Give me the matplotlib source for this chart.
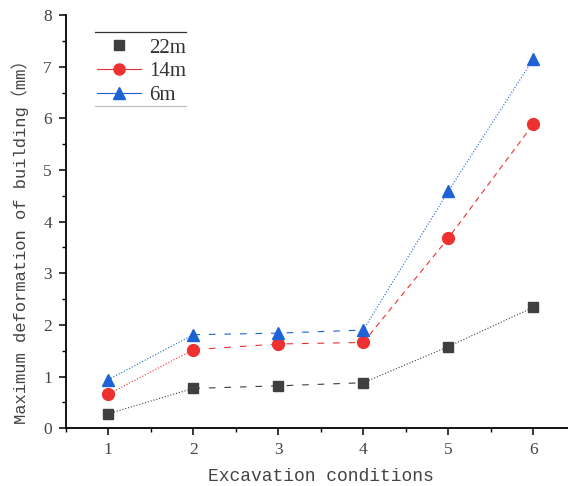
import numpy as np
import matplotlib.pyplot as plt
from matplotlib.lines import Line2D

plt.rcParams['font.family'] = ['Liberation Mono', 'Noto Sans CJK SC']

# data
conditions = [1, 2, 3, 4, 5, 6]
d22 = [0.28, 0.77, 0.82, 0.88, 1.58, 2.34]
d14 = [0.66, 1.52, 1.63, 1.66, 3.68, 5.89]
d6 = [0.94, 1.81, 1.84, 1.90, 4.59, 7.15]
labels = ["22m", "14m", "6m"]

series = [
    (d22, "#3f3f3f", "s", 7.5, [':', (0, (6, 8)), ':']),
    (d14, "#ee3030", "o", 8.5, [':', (0, (6, 8)), (0, (5, 4))]),
    (d6, "#1d63d6", "^", 9, [':', (0, (6, 8)), ':']),
]
# the line style changes at points 2 and 4
breaks = [(0, 2), (1, 4), (3, 6)]

fig = plt.figure(figsize=(5.68, 4.86), dpi=100)
ax = fig.add_axes([0.1158, 0.119, 0.898, 0.850])

handles = []
for (vals, col, mk, ms, styles), lab in zip(series, labels):
    for (a, b), ls in zip(breaks, styles):
        ax.plot(conditions[a:b], vals[a:b], color=col, lw=0.8, linestyle=ls)
    ax.plot(conditions, vals, linestyle='none', marker=mk, markersize=ms,
            color=col, zorder=3)
    if lab == "22m":
        handles.append(Line2D([], [], color=col, marker=mk, markersize=6.5, linestyle='none'))
    else:
        handles.append(Line2D([], [], color=col, marker=mk, markersize=8, lw=0.8))

ax.set_xlim(0.5, 6.5)
ax.set_ylim(0, 8)
ax.set_xticks(conditions)
ax.set_xticks(np.arange(0.5, 6.6, 0.5), minor=True)
ax.set_yticks(range(0, 9))
ax.set_yticks(np.arange(0, 8.1, 0.5), minor=True)
ax.spines['top'].set_visible(False)
ax.spines['right'].set_visible(False)
ax.spines['left'].set_linewidth(1.3)
ax.spines['bottom'].set_linewidth(1.3)
ax.tick_params(which='major', direction='out', length=5, width=1.1, labelsize=12.5,
               labelcolor='#444444', pad=5)
ax.tick_params(which='minor', direction='out', length=3, width=1.0)
for t in ax.get_xticklabels() + ax.get_yticklabels():
    t.set_family('Liberation Serif')

ax.set_xlabel("Excavation conditions", fontsize=13, color='#444444', labelpad=7)
ax.set_ylabel("Maximum deformation of building（mm）", fontsize=12.3,
              color='#444444', labelpad=10)
ax.yaxis.label.set_y(0.46)

leg = ax.legend(handles, labels, loc='upper left', bbox_to_anchor=(0.025, 0.99),
                frameon=False, prop={'family': 'Liberation Serif', 'size': 15},
                handlelength=2.1, handletextpad=0.4, labelspacing=0.2)
for t in leg.get_texts():
    t.set_color('#333333')
# thin rules above and below the legend, as in the original
fig.add_artist(Line2D([95 / 568, 186 / 568], [1 - 32 / 486, 1 - 32 / 486],
                      color='#333333', lw=0.9))
fig.add_artist(Line2D([95 / 568, 186 / 568], [1 - 106 / 486, 1 - 106 / 486],
                      color='#bbbbbb', lw=0.8))

plt.savefig("out.png", dpi=100)
